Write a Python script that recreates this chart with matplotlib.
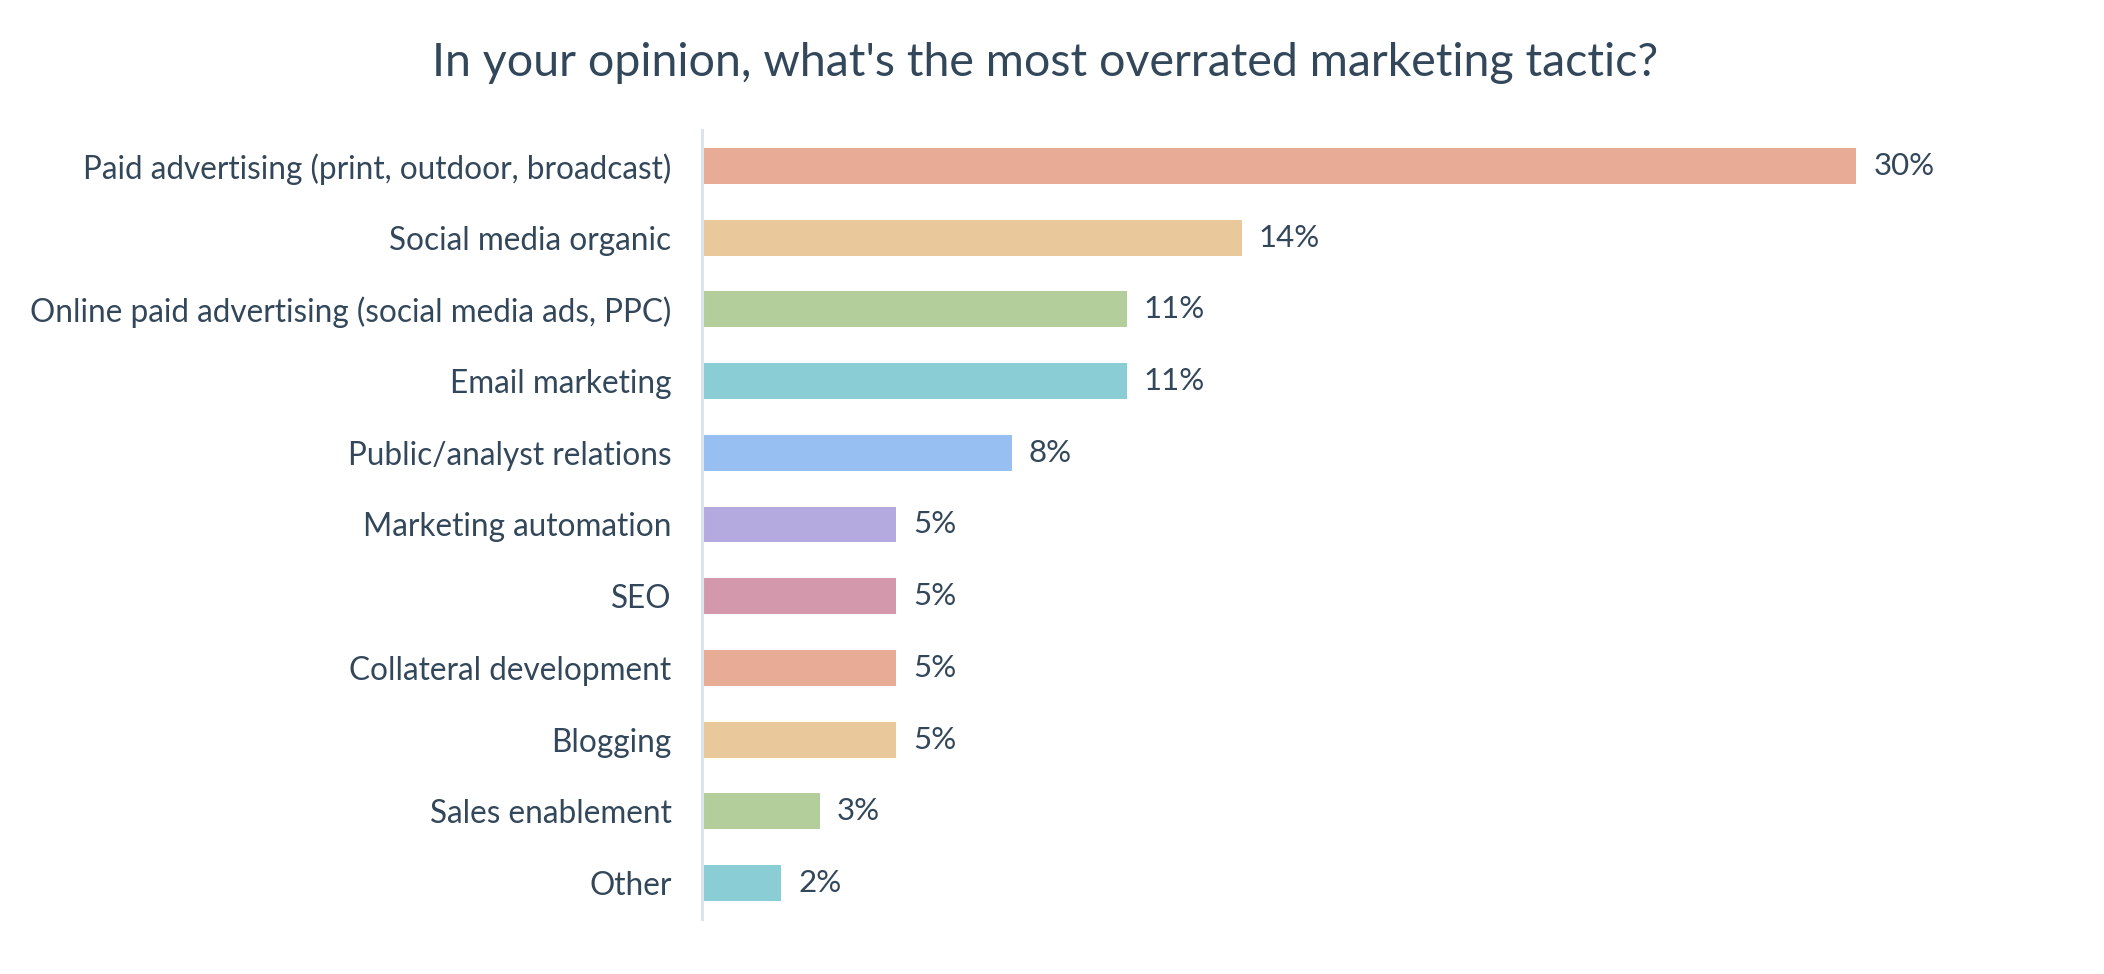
import matplotlib
matplotlib.use("Agg")
import matplotlib.pyplot as plt

# data (top to bottom)
tactics = [
    "Paid advertising (print, outdoor, broadcast)",
    "Social media organic",
    "Online paid advertising (social media ads, PPC)",
    "Email marketing",
    "Public/analyst relations",
    "Marketing automation",
    "SEO",
    "Collateral development",
    "Blogging",
    "Sales enablement",
    "Other",
]
values = [30, 14, 11, 11, 8, 5, 5, 5, 5, 3, 2]

colors = ["#E8AB96", "#E9C89B", "#B4CE9B", "#8ACDD5", "#97BFF2", "#B5AADF",
          "#D498AC", "#E8AB96", "#E9C89B", "#B4CE9B", "#8ACDD5"]

text_color = "#33475B"
plt.rcParams["font.family"] = ["Lato", "DejaVu Sans"]

fig = plt.figure(figsize=(21.04, 9.74), dpi=100)
ax = fig.add_axes([0.3337, 0.0565, 0.657, 0.810])

y = list(range(len(tactics)))
ax.barh(y, values, height=0.5, color=colors, left=0.06)

# value labels just past the end of each bar
for yi, v in zip(y, values):
    ax.text(v + 0.5, yi, f"{v}%", va="center", ha="left",
            fontsize=22.5, color=text_color)

ax.set_ylim(10.5, -0.5)
ax.set_xlim(0, 36)
ax.set_yticks(y)
ax.set_yticklabels(tactics, fontsize=22.7, color=text_color)
ax.tick_params(axis="y", length=0, pad=22)
ax.set_xticks([])

for side in ["top", "right", "bottom"]:
    ax.spines[side].set_visible(False)
ax.spines["left"].set_color("#DDE3EB")
ax.spines["left"].set_linewidth(2.2)

fig.text(0.4965, 0.935, "In your opinion, what's the most overrated marketing tactic?",
         ha="center", va="center", fontsize=33.5, color=text_color)

fig.savefig("out.png", dpi=100, facecolor="white")
